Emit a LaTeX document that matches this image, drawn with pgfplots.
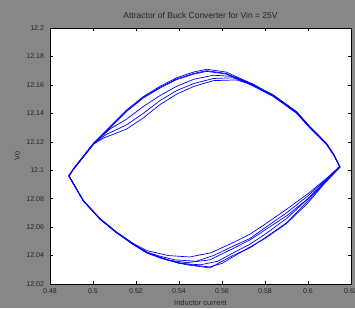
\documentclass[border=0pt]{standalone}
\usepackage{fontspec}
\setmainfont{Liberation Sans}
\usepackage{pgfplots}
\pgfplotsset{compat=1.18}
\definecolor{figgray}{RGB}{135,135,135}
\pgfplotsset{traj/.style={color=blue, line width=0.7pt, mark=none}}
\begin{document}
\begin{tikzpicture}[x=1pt,y=1pt]
\fill[figgray] (0,0) rectangle (355,308);
\clip (0,0) rectangle (355,308);
\begin{axis}[
  at={(50pt,24pt)}, anchor=south west,
  scale only axis, width=301pt, height=256pt,
  xmin=0.48, xmax=0.62, ymin=12.02, ymax=12.2,
  axis background/.style={fill=white},
  xtick={0.48,0.50,0.52,0.54,0.56,0.58,0.60,0.62},
  xticklabels={0.48,0.5,0.52,0.54,0.56,0.58,0.6,0.62},
  ytick={12.02,12.04,12.06,12.08,12.10,12.12,12.14,12.16,12.18,12.20},
  yticklabels={12.02,12.04,12.06,12.08,12.1,12.12,12.14,12.16,12.18,12.2},
  tick align=inside, major tick length=3pt,
  tick style={black, line width=0.4pt},
  axis line style={black, line width=0.6pt},
  ticklabel style={font=\fontsize{7}{8}\selectfont, text=black!85},
  xticklabel style={yshift=-1.5pt},
  yticklabel style={xshift=-2.5pt},
  title={Attractor of Buck Converter for Vin = 25V},
  title style={font=\fontsize{8.5}{9}\selectfont, text=black!85, at={(0.5,1)}, anchor=center, yshift=7pt},
  xlabel={Inductor current},
  xlabel style={font=\fontsize{7.5}{8}\selectfont, text=black!85, at={(0.5,0)}, anchor=center, yshift=-19pt},
  ylabel={Vo},
  ylabel style={font=\fontsize{7.5}{8}\selectfont, text=black!85, at={(0,0.5)}, anchor=center, yshift=33pt},
]
% loop 1
\addplot[traj] coordinates {(0.4888,12.0960)(0.4908,12.1007)(0.5001,12.1184)(0.5079,12.1301)(0.5157,12.1419)(0.5234,12.1513)(0.5312,12.1583)(0.5389,12.1642)(0.5467,12.1680)(0.5529,12.1700)(0.5620,12.1680)(0.5715,12.1618)(0.5838,12.1524)(0.5947,12.1407)(0.6010,12.1300)(0.6087,12.1184)(0.6120,12.1110)(0.6148,12.1024)
(0.6080,12.0935)(0.6000,12.0835)(0.5900,12.0725)(0.5800,12.0620)(0.5730,12.0550)(0.5650,12.0490)(0.5550,12.0420)(0.5450,12.0390)(0.5350,12.0400)(0.5250,12.0435)(0.5187,12.0485)(0.5110,12.0565)(0.5033,12.0660)(0.4955,12.0788)(0.4888,12.0960)};
% loop 2
\addplot[traj] coordinates {(0.4888,12.0960)(0.4910,12.1010)(0.5001,12.1182)(0.5047,12.1225)(0.5157,12.1290)(0.5234,12.1368)(0.5312,12.1462)(0.5389,12.1535)(0.5470,12.1590)(0.5560,12.1630)(0.5668,12.1635)(0.5740,12.1600)(0.5838,12.1520)(0.5947,12.1400)(0.6010,12.1295)(0.6087,12.1180)(0.6120,12.1105)(0.6150,12.1022)
(0.6070,12.0900)(0.6000,12.0785)(0.5900,12.0630)(0.5800,12.0525)(0.5730,12.0454)(0.5650,12.0400)(0.5544,12.0313)(0.5436,12.0335)(0.5340,12.0370)(0.5250,12.0419)(0.5187,12.0478)(0.5110,12.0560)(0.5033,12.0655)(0.4955,12.0784)(0.4886,12.0962)};
% loop 3
\addplot[traj] coordinates {(0.4886,12.0962)(0.4908,12.1005)(0.5001,12.1186)(0.5079,12.1290)(0.5157,12.1360)(0.5234,12.1448)(0.5312,12.1525)(0.5389,12.1590)(0.5470,12.1640)(0.5560,12.1668)(0.5650,12.1660)(0.5715,12.1622)(0.5838,12.1530)(0.5947,12.1412)(0.6010,12.1305)(0.6087,12.1188)(0.6120,12.1112)(0.6146,12.1026)
(0.6080,12.0930)(0.6000,12.0820)(0.5900,12.0700)(0.5800,12.0595)(0.5730,12.0520)(0.5650,12.0465)(0.5560,12.0400)(0.5480,12.0360)(0.5380,12.0370)(0.5300,12.0400)(0.5250,12.0425)(0.5187,12.0482)(0.5110,12.0562)(0.5033,12.0658)(0.4955,12.0786)(0.4890,12.0958)};
% loop 4
\addplot[traj] coordinates {(0.4890,12.0958)(0.4908,12.1010)(0.5001,12.1188)(0.5079,12.1306)(0.5157,12.1424)(0.5234,12.1518)(0.5312,12.1590)(0.5389,12.1650)(0.5467,12.1690)(0.5529,12.1710)(0.5620,12.1690)(0.5715,12.1625)(0.5838,12.1528)(0.5947,12.1410)(0.6010,12.1302)(0.6087,12.1186)(0.6120,12.1108)(0.6148,12.1026)
(0.6075,12.0915)(0.6000,12.0800)(0.5900,12.0660)(0.5800,12.0550)(0.5730,12.0480)(0.5660,12.0425)(0.5580,12.0360)(0.5500,12.0335)(0.5400,12.0345)(0.5320,12.0385)(0.5250,12.0422)(0.5187,12.0480)(0.5110,12.0563)(0.5033,12.0657)(0.4955,12.0785)(0.4888,12.0960)};
% loop 5
\addplot[traj] coordinates {(0.4888,12.0960)(0.4908,12.1006)(0.5001,12.1183)(0.5060,12.1250)(0.5157,12.1320)(0.5234,12.1400)(0.5312,12.1490)(0.5389,12.1560)(0.5470,12.1610)(0.5560,12.1645)(0.5650,12.1650)(0.5740,12.1610)(0.5838,12.1526)(0.5947,12.1405)(0.6010,12.1298)(0.6087,12.1182)(0.6120,12.1108)(0.6148,12.1024)
(0.6080,12.0920)(0.6000,12.0800)(0.5901,12.0680)(0.5800,12.0580)(0.5730,12.0510)(0.5652,12.0450)(0.5544,12.0370)(0.5436,12.0350)(0.5340,12.0370)(0.5250,12.0419)(0.5187,12.0478)(0.5110,12.0560)(0.5033,12.0655)(0.4955,12.0784)(0.4888,12.0960)};
% loop 6
\addplot[traj] coordinates {(0.4888,12.0960)(0.4908,12.1002)(0.5001,12.1179)(0.5079,12.1296)(0.5157,12.1414)(0.5234,12.1508)(0.5312,12.1578)(0.5389,12.1637)(0.5467,12.1675)(0.5529,12.1695)(0.5620,12.1676)(0.5715,12.1614)(0.5838,12.1520)(0.5947,12.1403)(0.6010,12.1296)(0.6087,12.1180)(0.6120,12.1106)(0.6148,12.1024)
(0.6070,12.0895)(0.6000,12.0770)(0.5900,12.0625)(0.5800,12.0520)(0.5730,12.0460)(0.5650,12.0390)(0.5600,12.0345)(0.5544,12.0320)(0.5480,12.0330)(0.5400,12.0350)(0.5320,12.0380)(0.5250,12.0420)(0.5187,12.0479)(0.5110,12.0561)(0.5033,12.0656)(0.4955,12.0785)(0.4888,12.0960)};
\end{axis}
\end{tikzpicture}
\end{document}
